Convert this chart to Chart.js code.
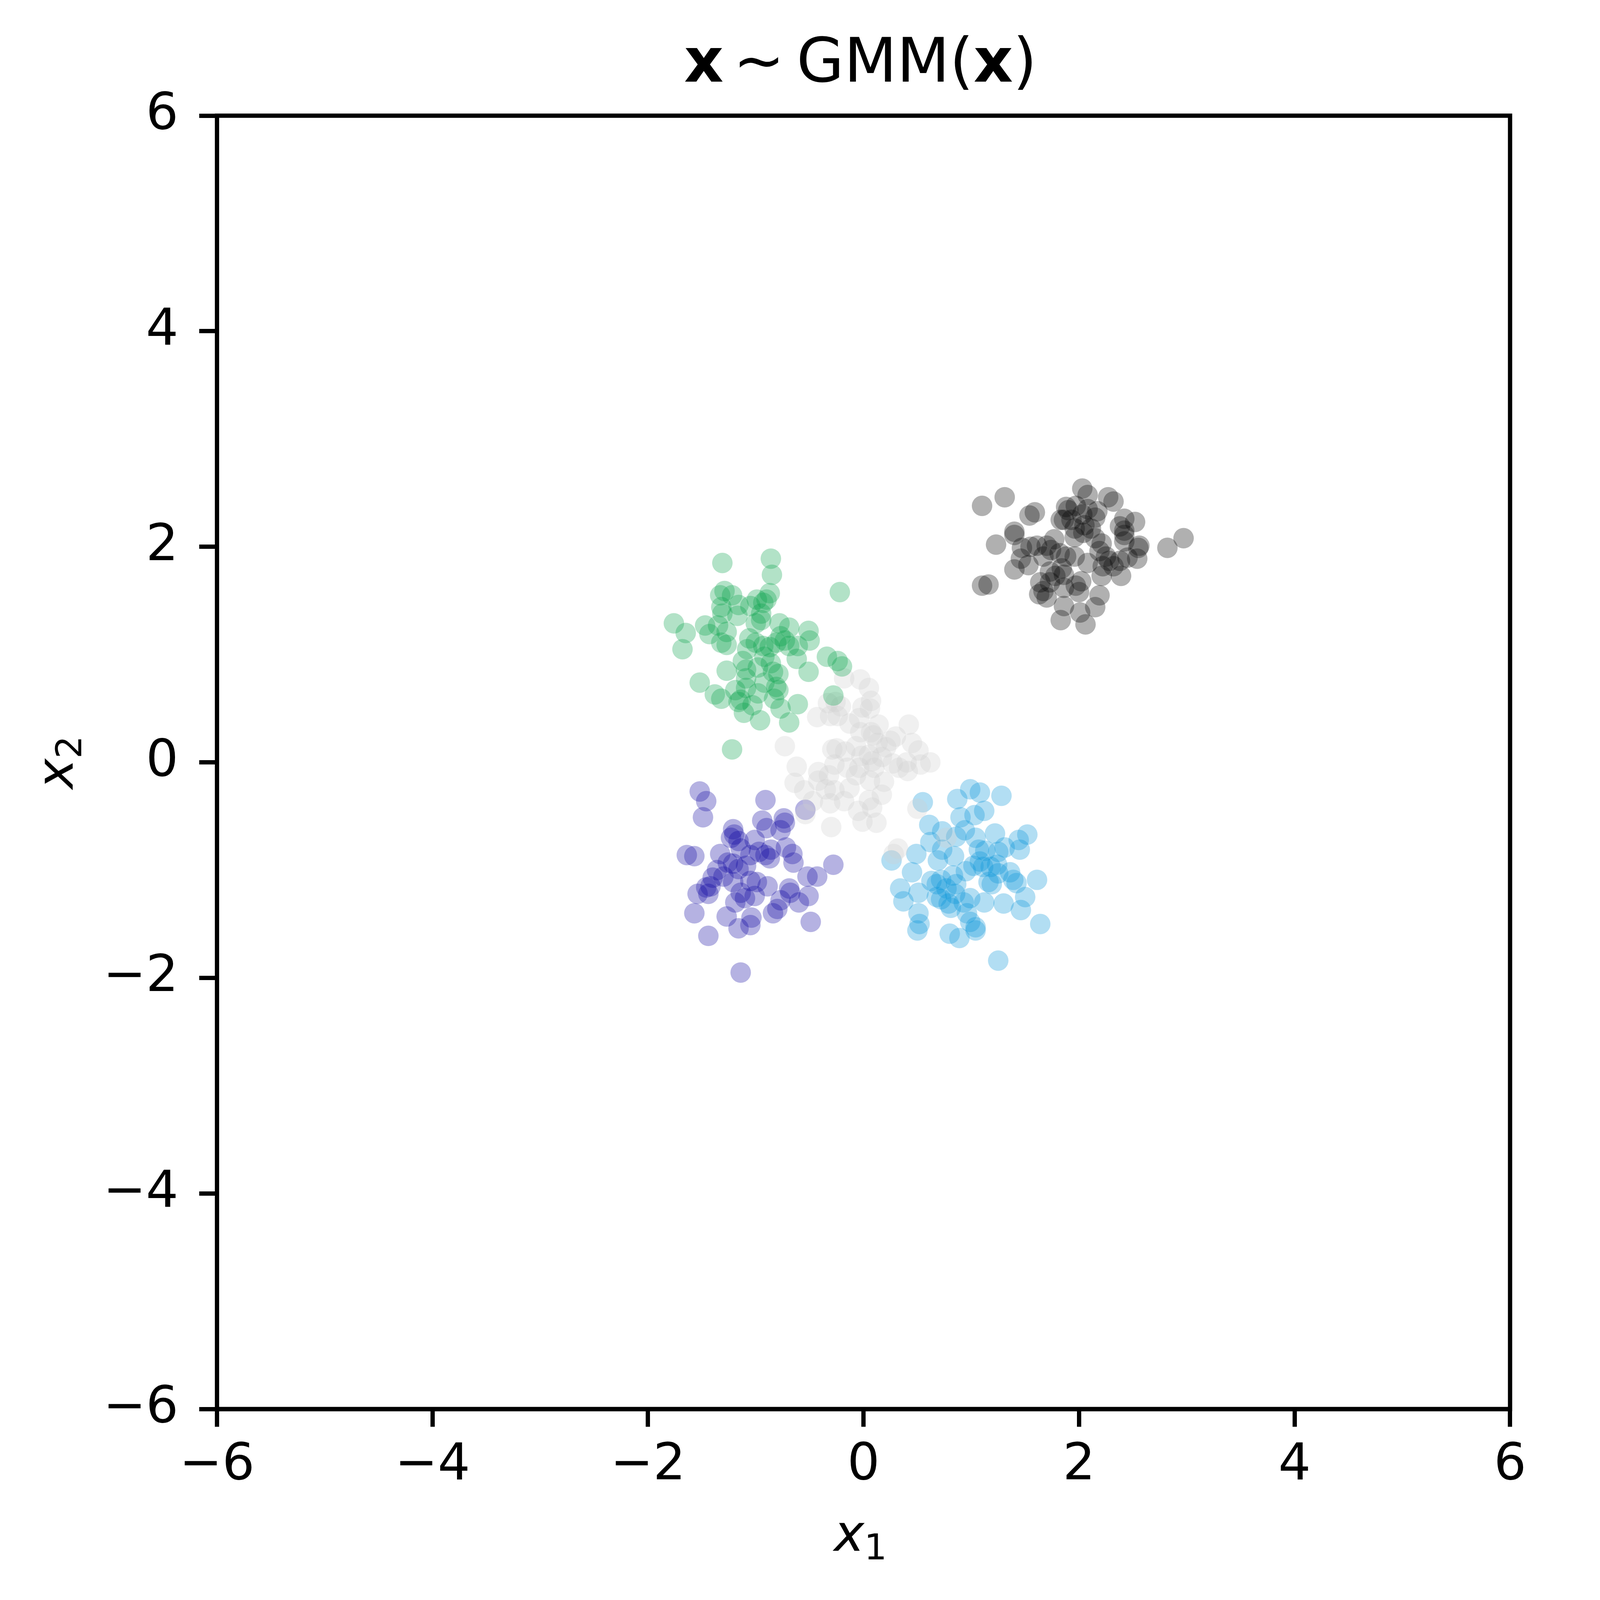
<!DOCTYPE html>
<html>
<head>
<meta charset="utf-8">
<script src="https://cdn.jsdelivr.net/npm/chart.js@4.4.1/dist/chart.umd.min.js"></script>
<style>
  html, body { margin: 0; padding: 0; background: #fff; overflow: hidden; }
  #chart { display: block; }
</style>
</head>
<body>
<canvas id="chart"></canvas>
<script>
// tick values of both axes
const xTicks = [-6, -4, -2, 0, 2, 4, 6];
const yTicks = [-6, -4, -2, 0, 2, 4, 6];

// samples, one list per mixture component
const blackPts = [[1.10,2.38],[1.31,2.46],[2.03,2.54],[2.08,2.48],[2.27,2.46],[2.32,2.42],[1.88,2.37],[1.90,2.34],
  [1.97,2.38],[2.08,2.35],[2.17,2.33],[2.15,2.27],[1.86,2.25],[1.93,2.25],[1.59,2.32],[1.54,2.29],[1.40,2.14],
  [1.40,2.11],[1.23,2.02],[2.42,2.26],[2.52,2.23],[2.38,2.19],[2.42,2.15],[2.42,2.11],[2.42,2.05],[2.56,2.01],
  [2.55,1.99],[2.54,1.89],[2.97,2.08],[2.82,1.99],[2.05,2.20],[2.04,2.13],[2.11,2.17],[1.96,2.09],[2.15,2.08],
  [2.21,2.03],[1.77,2.07],[1.70,2.01],[1.74,1.97],[1.61,2.01],[1.47,1.99],[1.55,2.00],[1.46,1.89],[1.53,1.83],
  [1.40,1.79],[1.67,1.91],[1.82,1.94],[1.88,1.91],[1.96,1.91],[1.84,1.80],[1.86,1.74],[1.78,1.73],[1.73,1.77],
  [2.08,1.85],[2.19,1.96],[2.25,1.91],[2.28,1.87],[2.22,1.82],[2.32,1.82],[2.38,1.87],[2.39,1.73],[2.21,1.73],
  [1.64,1.67],[1.73,1.67],[1.67,1.59],[1.63,1.56],[1.70,1.53],[1.86,1.62],[1.97,1.64],[2.02,1.68],[2.00,1.58],
  [2.19,1.55],[2.15,1.44],[1.86,1.45],[2.01,1.39],[1.83,1.32],[2.06,1.28],[1.10,1.64],[1.16,1.65],[2.45,1.90],
  [1.96,2.17],[2.03,2.30],[1.83,2.25]];

const greenPts = [[-1.31,1.85],[-0.86,1.89],[-0.85,1.74],[-0.22,1.58],[-1.29,1.59],[-1.33,1.55],[-1.22,1.55],
  [-1.32,1.44],[-1.16,1.46],[-1.31,1.38],[-1.17,1.36],[-0.99,1.51],[-1.05,1.45],[-0.87,1.57],[-0.90,1.51],
  [-0.93,1.48],[-0.95,1.38],[-0.95,1.32],[-1.00,1.29],[-1.76,1.29],[-1.65,1.20],[-1.68,1.05],[-1.47,1.27],
  [-1.43,1.19],[-1.35,1.27],[-1.27,1.21],[-1.32,1.11],[-1.27,1.09],[-0.78,1.29],[-0.69,1.25],[-0.51,1.22],
  [-0.50,1.13],[-0.77,1.17],[-0.73,1.13],[-0.69,1.08],[-0.61,1.08],[-0.62,0.96],[-1.06,1.15],[-1.00,1.11],
  [-0.93,1.08],[-0.87,1.07],[-0.81,1.11],[-0.92,0.98],[-1.08,1.05],[-1.12,0.94],[-1.09,0.86],[-0.98,0.88],
  [-0.86,0.92],[-0.84,0.84],[-0.79,0.82],[-0.51,0.84],[-0.34,0.98],[-0.24,0.94],[-0.20,0.89],[-1.27,0.85],
  [-1.52,0.74],[-1.38,0.63],[-1.32,0.59],[-1.19,0.67],[-1.09,0.78],[-1.09,0.69],[-1.14,0.58],[-1.16,0.56],
  [-1.03,0.53],[-1.11,0.46],[-0.96,0.39],[-0.92,0.74],[-0.81,0.70],[-0.79,0.67],[-0.83,0.59],[-0.77,0.50],
  [-0.69,0.37],[-0.61,0.54],[-0.28,0.62],[-1.22,0.12],[-0.98,0.64]];

const greyPts = [[-0.18,0.78],[-0.03,0.77],[0.05,0.69],[0.07,0.57],[0.06,0.50],[-0.01,0.51],[-0.04,0.41],
  [-0.33,0.55],[-0.26,0.56],[-0.21,0.52],[-0.43,0.42],[-0.31,0.43],[-0.24,0.43],[-0.13,0.36],[-0.03,0.28],
  [0.07,0.28],[0.14,0.35],[0.42,0.35],[0.30,0.24],[0.45,0.18],[0.51,0.11],[0.62,0.00],[0.53,-0.02],[0.40,0.00],
  [0.41,-0.08],[0.33,-0.05],[0.25,0.20],[0.21,0.14],[0.13,0.18],[0.09,0.25],[-0.25,0.13],[-0.29,0.12],
  [-0.17,0.10],[-0.07,0.15],[-0.02,0.06],[0.05,0.07],[0.08,0.01],[0.17,0.05],[0.27,-0.01],[-0.27,-0.02],
  [-0.15,-0.05],[-0.04,-0.05],[0.10,-0.05],[-0.32,-0.12],[-0.42,-0.09],[-0.42,-0.17],[-0.62,-0.04],[-0.73,0.15],
  [-0.64,-0.19],[-0.55,-0.26],[-0.47,-0.36],[-0.35,-0.25],[-0.27,-0.26],[-0.31,-0.38],[-0.18,-0.36],
  [-0.13,-0.24],[-0.07,-0.12],[0.06,-0.17],[0.19,-0.18],[0.17,-0.30],[0.05,-0.35],[0.08,-0.42],[-0.05,-0.45],
  [-0.01,-0.55],[0.12,-0.56],[-0.30,-0.60],[-0.54,-0.48],[0.50,-0.43],[0.32,-0.80],[0.28,-0.85],[0.77,-0.70]];

const purplePts = [[-1.52,-0.27],[-1.46,-0.36],[-1.49,-0.51],[-0.91,-0.35],[-0.54,-0.44],[-0.94,-0.54],
  [-0.90,-0.61],[-0.74,-0.52],[-0.73,-0.56],[-0.77,-0.63],[-1.21,-0.62],[-1.20,-0.67],[-1.23,-0.70],
  [-1.16,-0.73],[-1.01,-0.72],[-1.33,-0.85],[-1.64,-0.86],[-1.57,-0.87],[-1.26,-0.93],[-1.21,-0.94],
  [-1.16,-0.99],[-0.97,-0.83],[-0.91,-0.86],[-0.87,-0.89],[-0.72,-0.79],[-0.66,-0.85],[-0.65,-0.93],
  [-1.36,-1.00],[-1.40,-1.07],[-1.42,-1.15],[-1.54,-1.22],[-1.44,-1.22],[-1.57,-1.40],[-1.44,-1.61],
  [-1.30,-1.06],[-1.21,-1.11],[-1.14,-1.21],[-1.10,-1.26],[-1.19,-1.30],[-1.27,-1.43],[-1.16,-1.54],
  [-1.05,-1.51],[-1.04,-1.44],[-0.99,-1.11],[-0.89,-1.15],[-1.01,-1.24],[-0.84,-1.40],[-0.80,-1.36],
  [-0.77,-1.28],[-0.69,-1.17],[-0.68,-1.21],[-0.60,-1.30],[-0.51,-1.24],[-0.52,-1.06],[-0.43,-1.06],
  [-0.28,-0.95],[-0.49,-1.48],[-1.14,-0.80],[-1.05,-0.86],[-1.09,-0.96],[-0.86,-0.81],[-1.05,-1.10],
  [-1.46,-1.16],[-1.14,-1.95]];

const bluePts = [[0.55,-0.37],[0.87,-0.34],[0.99,-0.25],[1.08,-0.28],[1.28,-0.31],[0.90,-0.51],[1.03,-0.49],
  [1.12,-0.45],[0.61,-0.58],[0.73,-0.64],[0.86,-0.69],[0.94,-0.63],[1.04,-0.70],[1.22,-0.66],[1.44,-0.72],
  [1.52,-0.67],[1.45,-0.81],[1.31,-0.79],[1.25,-0.83],[1.07,-0.81],[1.13,-0.82],[0.62,-0.74],[0.73,-0.81],
  [0.84,-0.87],[0.69,-0.91],[0.26,-0.91],[0.49,-0.85],[0.45,-1.02],[0.34,-1.17],[0.37,-1.29],[0.51,-1.21],
  [0.51,-1.40],[0.52,-1.50],[0.50,-1.56],[0.63,-1.10],[0.68,-1.13],[0.72,-1.09],[0.83,-1.05],[0.86,-1.13],
  [0.95,-1.01],[1.02,-0.96],[1.08,-0.92],[1.11,-0.97],[1.18,-0.97],[1.24,-0.95],[1.25,-1.03],[1.36,-1.02],
  [1.39,-1.09],[1.42,-1.12],[1.61,-1.09],[1.16,-1.11],[1.19,-1.13],[0.68,-1.25],[0.72,-1.27],[0.79,-1.31],
  [0.81,-1.35],[0.85,-1.22],[0.93,-1.30],[0.99,-1.26],[1.12,-1.30],[1.30,-1.31],[1.46,-1.37],[1.50,-1.25],
  [1.64,-1.50],[0.96,-1.40],[0.99,-1.48],[1.04,-1.53],[1.04,-1.56],[0.80,-1.59],[0.89,-1.63],[1.25,-1.84],
  [0.77,-1.17]];

const FONT = "'DejaVu Sans', sans-serif";

// the layout numbers below are in pixels of the 5113 x 5228 reference;
// k turns them into css pixels of whatever window we get
const REF_W = 5113, REF_H = 5228;
const k = Math.min(window.innerWidth / REF_W, window.innerHeight / REF_H);
const px = v => v * k;
const LW = px(14);

function minus(v) {
  return v < 0 ? '\u2212' + Math.abs(v) : String(v);
}

function toXY(pts) {
  return pts.map(p => ({ x: p[0], y: p[1] }));
}

function cluster(pts, color) {
  return {
    data: toXY(pts),
    backgroundColor: color,
    borderWidth: 0,
    pointRadius: px(33.5),
    pointHoverRadius: px(33.5)
  };
}

// text runs with different fonts / baseline shifts, left to right;
// a run may carry an extra gap (in css px) before it
function runs(ctx, parts, x, y) {
  parts.forEach(p => {
    x += p.gap || 0;
    ctx.font = p.font;
    ctx.fillText(p.text, x, y + (p.dy || 0));
    x += ctx.measureText(p.text).width;
  });
}

function runsWidth(ctx, parts) {
  let w = 0;
  parts.forEach(p => { ctx.font = p.font; w += (p.gap || 0) + ctx.measureText(p.text).width; });
  return w;
}

const f = (size, style) => (style ? style + ' ' : '') + px(size) + 'px ' + FONT;

// frame, title and axis labels the way matplotlib sets them
const mplText = {
  id: 'mplText',
  afterDraw(chart) {
    const ctx = chart.ctx;
    const a = chart.chartArea;
    ctx.save();
    ctx.strokeStyle = '#000';
    ctx.lineWidth = LW;
    ctx.lineCap = 'square';
    ctx.lineJoin = 'miter';
    ctx.strokeRect(a.left, a.top, a.right - a.left, a.bottom - a.top);

    ctx.fillStyle = '#000';
    ctx.textBaseline = 'alphabetic';
    ctx.textAlign = 'left';
    const cx = (a.left + a.right) / 2 - px(10);

    const title = [
      { text: 'x', font: f(200, 'bold') },
      { text: '~', font: f(200), gap: px(32) },
      { text: 'GMM(', font: f(200), gap: px(39) },
      { text: 'x', font: f(200, 'bold') },
      { text: ')', font: f(200) }
    ];
    runs(ctx, title, cx - runsWidth(ctx, title) / 2, px(267));

    const xl = [
      { text: 'x', font: f(167, 'italic') },
      { text: '1', font: f(117), dy: px(28) }
    ];
    runs(ctx, xl, cx - runsWidth(ctx, xl) / 2, px(5067));

    const yl = [
      { text: 'x', font: f(167, 'italic') },
      { text: '2', font: f(117), dy: px(28) }
    ];
    const yw = runsWidth(ctx, yl);
    ctx.translate(px(238), (a.top + a.bottom) / 2);
    ctx.rotate(-Math.PI / 2);
    runs(ctx, yl, -yw / 2, 0);
    ctx.restore();
  }
};

function axis(ticks, pos) {
  return {
    type: 'linear',
    position: pos,
    min: -6,
    max: 6,
    afterBuildTicks: s => { s.ticks = ticks.map(v => ({ value: v })); },
    afterFit: s => {
      if (pos === 'left') s.width = px(709);
      else s.height = px(624);
    },
    ticks: {
      autoSkip: false,
      maxRotation: 0,
      padding: px(pos === 'left' ? 68 : 28),
      color: '#000',
      font: { family: FONT, size: px(167) },
      callback: v => minus(v)
    },
    grid: {
      display: true,
      drawOnChartArea: false,
      drawTicks: true,
      tickLength: px(58),
      tickWidth: LW,
      tickColor: '#000',
      color: '#000',
      lineWidth: LW
    },
    border: { display: true, color: '#000', width: LW },
    title: { display: false }
  };
}

const canvas = document.getElementById('chart');
canvas.width = Math.round(REF_W * k);
canvas.height = Math.round(REF_H * k);

new Chart(canvas, {
  type: 'scatter',
  data: {
    datasets: [
      cluster(blackPts, 'rgba(0,0,0,0.31)'),
      cluster(greenPts, 'rgba(0,160,70,0.3)'),
      cluster(greyPts, 'rgba(205,205,205,0.3)'),
      cluster(purplePts, 'rgba(10,0,160,0.3)'),
      cluster(bluePts, 'rgba(0,145,216,0.3)')
    ]
  },
  options: {
    responsive: false,
    devicePixelRatio: window.devicePixelRatio || 1,
    animation: false,
    events: [],
    layout: { padding: { left: 0, right: px(179), top: px(378), bottom: 0 } },
    plugins: {
      legend: { display: false },
      title: { display: false },
      tooltip: { enabled: false }
    },
    scales: {
      x: axis(xTicks, 'bottom'),
      y: axis(yTicks, 'left')
    }
  },
  plugins: [mplText]
});
</script>
</body>
</html>
